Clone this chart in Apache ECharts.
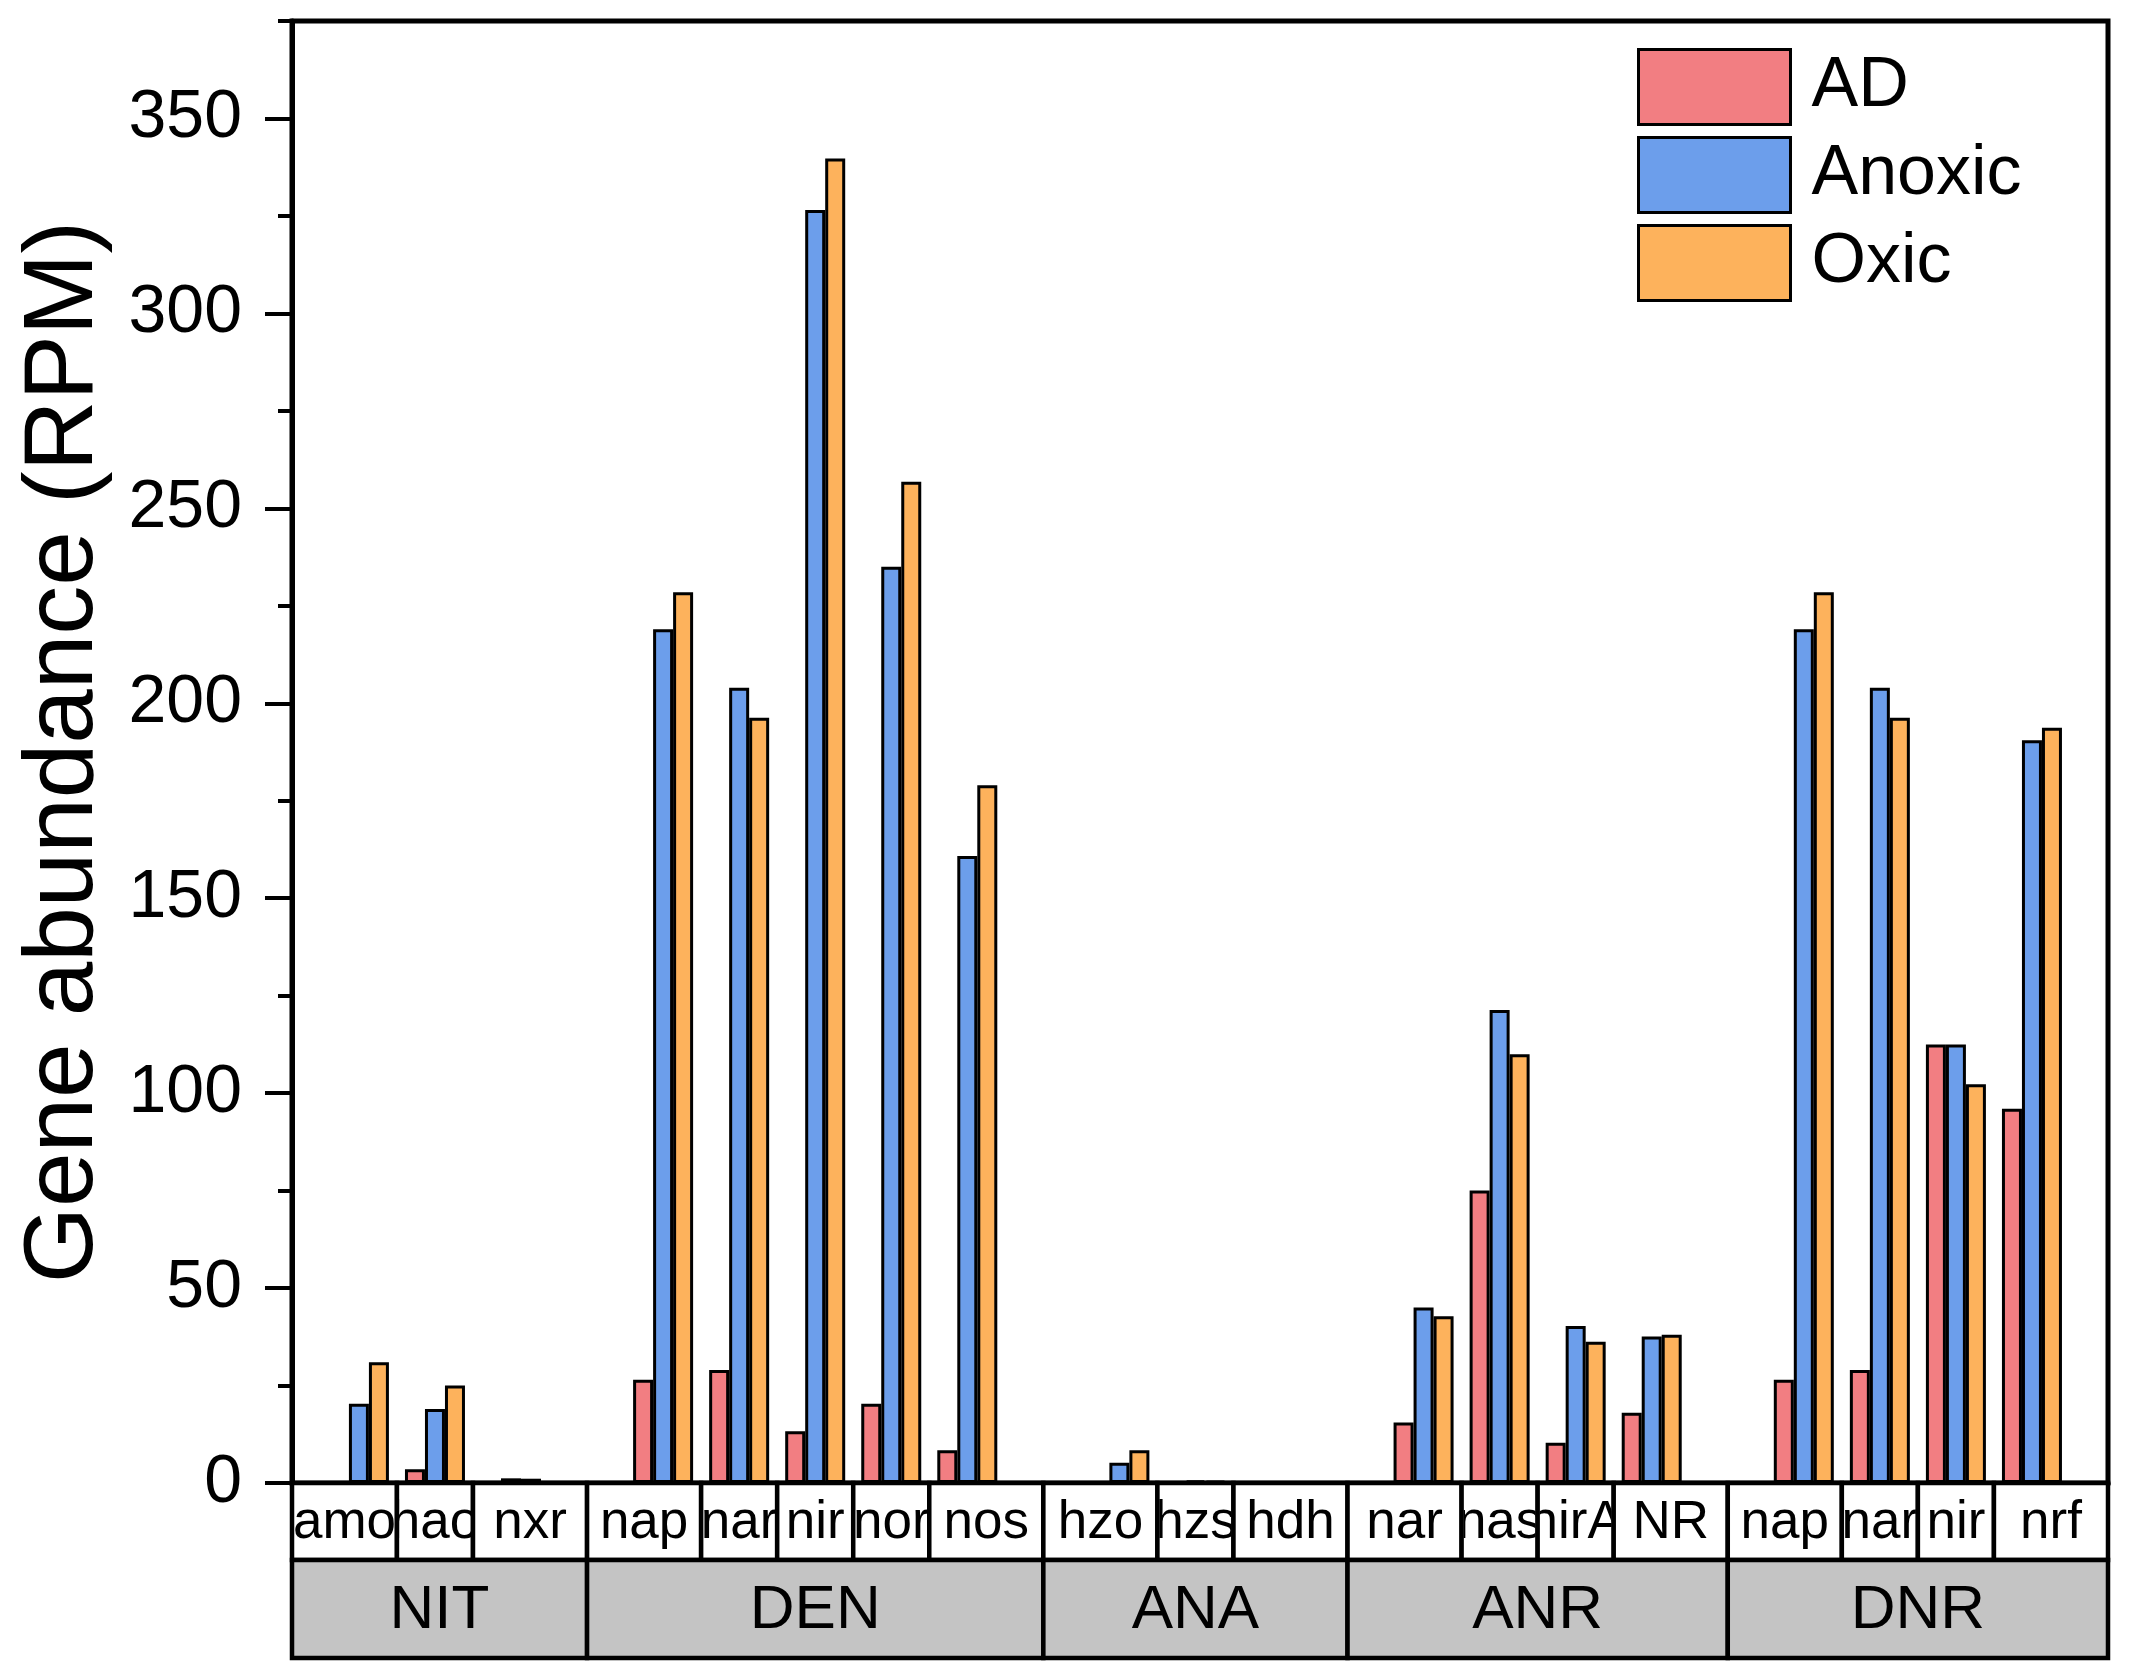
<!DOCTYPE html>
<html>
<head>
<meta charset="utf-8">
<script src="https://cdn.jsdelivr.net/npm/echarts@6/dist/echarts.min.js"></script>
<style>
html,body{margin:0;padding:0;background:#fff;}
#chart{width:2138px;height:1678px;}
</style>
</head>
<body>
<div id="chart"></div>
<script>
// ---- data ----
const groups = ['NIT', 'DEN', 'ANA', 'ANR', 'DNR'];
const groupSizes = [3, 5, 3, 4, 4];
const genes = ['amo', 'hao', 'nxr', 'nap', 'nar', 'nir', 'nor', 'nos', 'hzo', 'hzs', 'hdh', 'nar', 'nas', 'nirA', 'NR', 'nap', 'nar', 'nir', 'nrf'];
const seriesNames = ['AD', 'Anoxic', 'Oxic'];
const adValues     = [0, 3.5, 0, 26.5, 29, 13.3, 20.3, 8.4, 0, 0.3, 0, 15.5, 75, 10.3, 18, 26.5, 29, 112.5, 96];
const anoxicValues = [20.3, 19, 1.2, 219, 204, 326.5, 235, 160.8, 5.2, 0.6, 0, 45, 121.3, 40.3, 37.6, 219, 204, 112.5, 190.5];
const oxicValues   = [31, 25, 1.1, 228.5, 196.3, 339.7, 256.8, 179, 8.4, 0.5, 0, 42.8, 110, 36.2, 38, 228.5, 196.3, 102.3, 193.7];
const yTickValues = [0, 50, 100, 150, 200, 250, 300, 350];
const yMin = 0, yMax = 375, yMajor = 50, yMinor = 25;

// ---- layout helpers ----
const FONT = "'Liberation Sans', Arial, Helvetica, sans-serif";
const colors = ['#F27E82', '#6C9EEB', '#FDB25C'];
const xMin = -0.88, xMax = 23.0;

// slot position of every gene: consecutive inside a group, one empty slot between groups
const slots = [];
const cells = []; // [x0, x1, row]
const cellLabels = [];
(function () {
  let s = 0, j = 0;
  groupSizes.forEach((n, g) => {
    const gStart = s;
    for (let k = 0; k < n; k++) {
      slots.push(s);
      const left = k === 0 ? (g === 0 ? xMin : s - 1) : s - 0.5;
      const right = k === n - 1 ? (g === groupSizes.length - 1 ? xMax : s + 1) : s + 0.5;
      cells.push([left, right, 0]);
      cellLabels.push(genes[j]);
      s++; j++;
    }
    const gl = g === 0 ? xMin : gStart - 1;
    const gr = g === groupSizes.length - 1 ? xMax : s;
    cells.push([gl, gr, 1]);
    cellLabels.push(groups[g]);
    s++;
  });
})();

const valueSets = [adValues, anoxicValues, oxicValues];
const barSeries = seriesNames.map((name, si) => ({
  name: name,
  type: 'bar',
  xAxisIndex: 0,
  yAxisIndex: 0,
  barWidth: 20,
  barGap: '0%',
  data: valueSets[si].map((v, i) => [slots[i], v]),
  itemStyle: { color: colors[si], borderColor: '#000', borderWidth: 3 },
  emphasis: { disabled: true },
  z: 3
}));

const labelSeries = {
  type: 'custom',
  xAxisIndex: 1,
  yAxisIndex: 2,
  silent: true,
  data: cells,
  renderItem: function (params, api) {
    const row = api.value(2);
    const top = row === 0 ? 0 : 77;
    const bottom = row === 0 ? 77 : 175;
    const p0 = api.coord([api.value(0), top]);
    const p1 = api.coord([api.value(1), bottom]);
    const x = p0[0], y = Math.min(p0[1], p1[1]);
    const w = p1[0] - p0[0], h = Math.abs(p1[1] - p0[1]);
    return {
      type: 'group',
      children: [
        { type: 'rect', shape: { x: x, y: y, width: w, height: h },
          style: { fill: row === 0 ? '#ffffff' : '#C4C4C4', stroke: '#000', lineWidth: 4.5 } },
        { type: 'text',
          clipPath: { type: 'rect', shape: { x: x + 2, y: y, width: w - 4, height: h } },
          style: { x: x + w / 2, y: y + h / 2 + 2, text: cellLabels[params.dataIndex], fill: '#000',
                   fontSize: row === 0 ? 53 : 62, fontFamily: FONT,
                   align: 'center', verticalAlign: 'middle' } }
      ]
    };
  }
};

const chart = echarts.init(document.getElementById('chart'), null, { renderer: 'canvas' });
chart.setOption({
  backgroundColor: '#ffffff',
  animation: false,
  textStyle: { fontFamily: FONT, color: '#000' },
  legend: {
    orient: 'vertical',
    left: 1637,
    top: 48,
    padding: 0,
    itemWidth: 152,
    itemHeight: 75,
    itemGap: 10,
    icon: 'rect',
    selectedMode: false,
    data: seriesNames,
    itemStyle: { borderColor: '#000', borderWidth: 3 },
    textStyle: { fontSize: 70, fontFamily: FONT, color: '#000', padding: [0, 0, 0, 16] }
  },
  grid: [
    { left: 292, right: 30, top: 21, height: 1462, show: true, borderColor: '#000', borderWidth: 5, backgroundColor: 'transparent' },
    { left: 292, right: 30, top: 1483, height: 175 }
  ],
  xAxis: [
    { type: 'value', gridIndex: 0, min: xMin, max: xMax,
      axisLine: { show: true, onZero: false, lineStyle: { color: '#000', width: 5 } },
      axisTick: { show: false }, axisLabel: { show: false }, splitLine: { show: false } },
    { type: 'value', gridIndex: 1, min: xMin, max: xMax, show: false }
  ],
  yAxis: [
    { type: 'value', gridIndex: 0, min: yMin, max: yMax, interval: yMajor,
      name: 'Gene abundance (RPM)', nameLocation: 'middle', nameGap: 178,
      nameTextStyle: { fontSize: 98, fontFamily: FONT, color: '#000' },
      axisLine: { show: true, onZero: false, lineStyle: { color: '#000', width: 5 } },
      axisTick: { show: true, inside: false, length: 27, customValues: yTickValues, lineStyle: { color: '#000', width: 4 } },
      axisLabel: { fontSize: 68, color: '#000', fontFamily: FONT, margin: 50, customValues: yTickValues },
      splitLine: { show: false } },
    { type: 'value', gridIndex: 0, position: 'left', min: yMin, max: yMax, interval: yMinor,
      axisLine: { show: false, onZero: false },
      axisTick: { show: true, inside: false, length: 14, lineStyle: { color: '#000', width: 4 } },
      axisLabel: { show: false }, splitLine: { show: false } },
    { type: 'value', gridIndex: 1, min: 0, max: 175, inverse: true, show: false }
  ],
  series: barSeries.concat([labelSeries])
});
</script>
</body>
</html>
